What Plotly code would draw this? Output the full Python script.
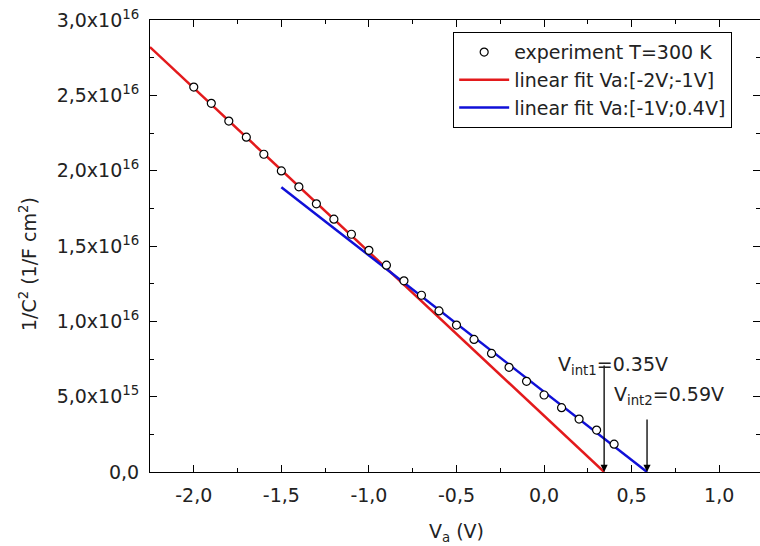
import plotly.graph_objects as go

# Experimental 1/C^2 vs applied voltage
va = [-2.0, -1.9, -1.8, -1.7, -1.6, -1.5, -1.4, -1.3, -1.2, -1.1, -1.0, -0.9, -0.8,
      -0.7, -0.6, -0.5, -0.4, -0.3, -0.2, -0.1, 0.0, 0.1, 0.2, 0.3, 0.4]
inv_c2 = [2.555e16, 2.447e16, 2.329e16, 2.222e16, 2.109e16, 1.998e16, 1.893e16, 1.780e16,
          1.678e16, 1.578e16, 1.471e16, 1.373e16, 1.269e16, 1.173e16, 1.069e16, 0.975e16,
          0.880e16, 0.787e16, 0.695e16, 0.602e16, 0.511e16, 0.427e16, 0.351e16, 0.278e16,
          0.185e16]

# Linear fits (end points)
fit1_x = [-2.25, 0.343]
fit1_y = [2.82e16, 0.0]
fit2_x = [-1.5, 0.588]
fit2_y = [1.89e16, 0.0]

# Intercept arrows and labels
vint_x = [0.343, 0.588]
vint_tail_y = [0.717e16, 0.358e16]
vint_labels = ["V<sub>int1</sub>=0.35V", "V<sub>int2</sub>=0.59V"]
vint_text_x = [0.069, 0.388]
vint_text_y = [0.704e16, 0.505e16]

xtick_vals = [-2.0, -1.5, -1.0, -0.5, 0.0, 0.5, 1.0]
xtick_text = ["-2,0", "-1,5", "-1,0", "-0,5", "0,0", "0,5", "1,0"]
ytick_vals = [0, 0.5e16, 1.0e16, 1.5e16, 2.0e16, 2.5e16, 3.0e16]
ytick_text = ["0,0", "5,0x10<sup>15</sup>", "1,0x10<sup>16</sup>", "1,5x10<sup>16</sup>",
              "2,0x10<sup>16</sup>", "2,5x10<sup>16</sup>", "3,0x10<sup>16</sup>"]

x_title = "V<sub>a</sub> (V)"
y_title = "1/C<sup>2</sup> (1/F cm<sup>2</sup>)"

FONT = "DejaVu Sans, Verdana, sans-serif"
TXT = "#222222"

fig = go.Figure()
fig.add_trace(go.Scatter(x=fit1_x, y=fit1_y, mode="lines",
                         line=dict(color="#e31a1c", width=2.5),
                         name="linear fit Va:[-2V;-1V]", legendrank=2))
fig.add_trace(go.Scatter(x=fit2_x, y=fit2_y, mode="lines",
                         line=dict(color="#1010d8", width=2.5),
                         name="linear fit Va:[-1V;0.4V]", legendrank=3))
fig.add_trace(go.Scatter(x=va, y=inv_c2, mode="markers",
                         marker=dict(symbol="circle", size=8, color="white",
                                     line=dict(color="black", width=1.2)),
                         name="experiment T=300 K", legendrank=1))

for xv, ty, lab, tx, tyy in zip(vint_x, vint_tail_y, vint_labels, vint_text_x, vint_text_y):
    fig.add_annotation(x=xv, y=0, ax=xv, ay=ty, xref="x", yref="y", axref="x", ayref="y",
                       text="", showarrow=True, arrowhead=2, arrowsize=1.1,
                       arrowwidth=1.3, arrowcolor="black")
    fig.add_annotation(x=tx, y=tyy, xref="x", yref="y", text=lab, showarrow=False,
                       xanchor="left", yanchor="middle",
                       font=dict(family=FONT, size=19, color=TXT))

# Axis titles (placed as annotations for exact positioning)
fig.add_annotation(x=0.503, y=-0.101, xref="paper", yref="paper", text=x_title,
                   showarrow=False, xanchor="center", yanchor="top",
                   font=dict(family=FONT, size=19, color=TXT))
fig.add_annotation(x=-0.2, y=0.46, xref="paper", yref="paper", text=y_title,
                   showarrow=False, xanchor="center", yanchor="middle", textangle=-90,
                   font=dict(family=FONT, size=19, color=TXT))

axis_common = dict(showline=True, linecolor="black", linewidth=1, mirror="ticks",
                   ticks="inside", ticklen=7, tickwidth=1, tickcolor="black",
                   showgrid=False, zeroline=False,
                   tickfont=dict(family=FONT, size=19, color=TXT))

fig.update_xaxes(range=[-2.25, 1.233], tickmode="array", tickvals=xtick_vals,
                 ticktext=xtick_text, ticklabelstandoff=6,
                 minor=dict(ticks="inside", ticklen=4, dtick=0.25, tick0=0,
                            tickcolor="black", showgrid=False),
                 **axis_common)
fig.update_yaxes(range=[0, 3.0e16], tickmode="array", tickvals=ytick_vals,
                 ticktext=ytick_text, ticklabelstandoff=6,
                 minor=dict(ticks="inside", ticklen=4, dtick=0.25e16, tick0=0,
                            tickcolor="black", showgrid=False),
                 **axis_common)

fig.update_layout(
    width=760, height=546,
    margin=dict(l=150, r=0, t=20, b=74, autoexpand=False),
    plot_bgcolor="white", paper_bgcolor="white",
    showlegend=True,
    legend=dict(x=0.497, y=0.973, xanchor="left", yanchor="top",
                bgcolor="white", bordercolor="black", borderwidth=1,
                font=dict(family=FONT, size=19, color=TXT),
                tracegroupgap=0, itemwidth=50),
)

fig.write_html("out.html", config={"displayModeBar": False},
               post_script="document.body.style.margin='0';document.body.style.overflow='hidden';")
